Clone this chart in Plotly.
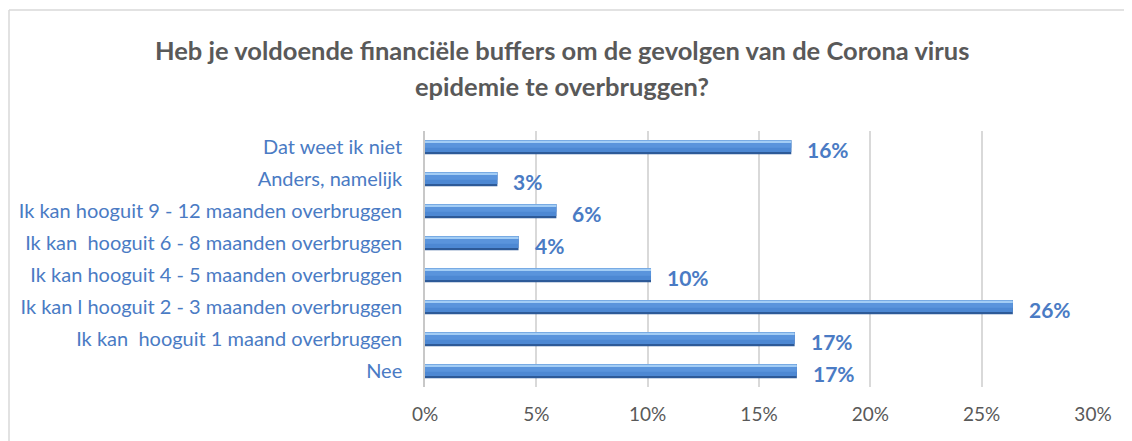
import plotly.graph_objects as go

categories = [
    "Nee",
    "Ik kan  hooguit 1 maand overbruggen",
    "Ik kan l hooguit 2 - 3 maanden overbruggen",
    "Ik kan hooguit 4 - 5 maanden overbruggen",
    "Ik kan  hooguit 6 - 8 maanden overbruggen",
    "Ik kan hooguit 9 - 12 maanden overbruggen",
    "Anders, namelijk",
    "Dat weet ik niet",
]
values = [0.167, 0.166, 0.264, 0.1015, 0.042, 0.059, 0.0325, 0.1645]
tick_vals = [0, 0.05, 0.10, 0.15, 0.20, 0.25, 0.30]
tick_text = ["0%", "5%", "10%", "15%", "20%", "25%", "30%"]
title_lines = ["Heb je voldoende financiële buffers om de gevolgen van de Corona virus",
               "epidemie te overbruggen?"]

FONT = "Lato"
BLUE_TXT = "#4A7BC4"
GRAY_TXT = "#595959"

# page body has an 8px margin -> figure coordinates = screen - 8
W, H = 1124, 433
L, R, T, B = 417, 39, 123, 54
pw, ph = W - L - R, H - T - B

def px(xs):  # screen x -> paper x
    return (xs - 8 - L) / pw

def py(ys):  # screen y -> paper y
    return (H - B - (ys - 8)) / ph

fig = go.Figure()
# layered bars imitate the bevelled gradient look (width, offset, colour)
layers = [
    (0.45, -0.23, "#2D5A98"),
    (0.38, -0.16, "#4D88D3"),
    (0.20, -0.02, "#5A94DC"),
    (0.06, 0.14, "#A3CDF5"),
]
for w, o, col in layers:
    fig.add_trace(go.Bar(
        y=categories, x=values, orientation="h",
        width=w, offset=o,
        marker=dict(color=col, line=dict(width=0)),
        hoverinfo="skip", showlegend=False,
    ))

for c, v in zip(categories, values):
    fig.add_annotation(
        x=v, y=c, xref="x", yref="y", text=f"<b>{round(v*100):.0f}%</b>",
        showarrow=False, xanchor="left", yanchor="middle", xshift=14, yshift=-2,
        font=dict(family=FONT, size=21, color=BLUE_TXT),
    )

for line, ys in zip(title_lines, [50, 86]):
    fig.add_annotation(x=px(562), y=py(ys), xref="paper", yref="paper",
                       text=f"<b>{line}</b>", showarrow=False,
                       xanchor="center", yanchor="middle",
                       font=dict(family=FONT, size=25.5, color=GRAY_TXT))

# outer chart border (only left and top edges are visible in the frame)
fig.add_shape(type="line", xref="paper", yref="paper",
              x0=px(9), x1=px(9), y0=py(441), y1=py(10),
              line=dict(color="#D9D9D9", width=1.5))
fig.add_shape(type="line", xref="paper", yref="paper",
              x0=px(9), x1=px(1132), y0=py(10), y1=py(10),
              line=dict(color="#D9D9D9", width=1.5))

fig.update_layout(
    width=W, height=H,
    margin=dict(l=L, r=R, t=T, b=B),
    barmode="overlay",
    paper_bgcolor="white", plot_bgcolor="white",
    font=dict(family=FONT),
    xaxis=dict(range=[0, 0.30], tickvals=tick_vals, ticktext=tick_text,
               showgrid=True, gridcolor="#D9D9D9", gridwidth=1.5,
               zeroline=False, showline=False, ticks="",
               tickfont=dict(family=FONT, size=19, color=GRAY_TXT),
               ticklabelstandoff=14),
    yaxis=dict(showline=True, linecolor="#C8C8C8", linewidth=1.5,
               ticks="", showgrid=False, range=[-0.5, 7.5],
               tickfont=dict(family=FONT, size=20, color=BLUE_TXT),
               ticklabelstandoff=17),
)

fig.write_html("out.html")
